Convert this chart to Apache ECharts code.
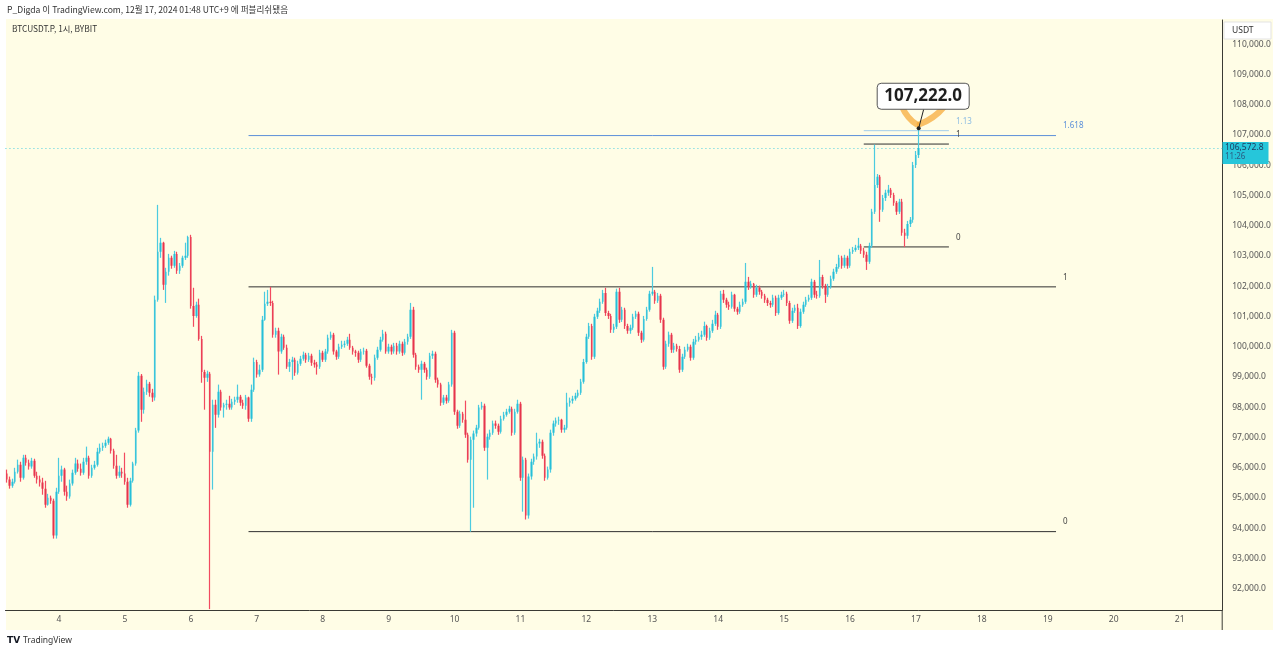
<!DOCTYPE html>
<html><head><meta charset="utf-8">
<script src="https://cdn.jsdelivr.net/npm/echarts@6/dist/echarts.min.js"></script>
<style>
html,body{margin:0;padding:0;background:#fff;width:1280px;height:654px;overflow:hidden;}
#panel{position:absolute;left:6px;top:19px;width:1267px;height:611px;background:#fffde6;}
#c{position:absolute;left:0;top:0;width:1280px;height:654px;}
</style>
</head><body><div id="panel"></div><div id="c"></div>
<script>
// BTCUSDT.P 1h, Dec 3 05:00 -> Dec 17 01:00 (UTC+9)
const opens = [
95810,95610,95410,95540,95870,96100,95670,96330,96170,96040,96230,95740,95610,95510,95310,94780,95010,94910,93760,
95210,95740,95940,95210,95050,95480,95840,96140,95970,95840,96200,96330,95740,96000,96100,96530,96660,96730,96830,96960,96560,96070,95740,95870,
95810,95540,94780,95570,96140,97230,99040,97920,98510,98780,98480,98320,101550,103140,103440,102050,102480,102940,102680,103070,102510,102680,102940,103010,
103630,101350,101020,101390,100260,99170,98980,99110,96530,98080,97750,98510,97990,98080,98120,97990,98180,98250,98350,98150,98050,98320,97620,98580,
99500,99080,99240,100890,101420,101490,101450,100400,100530,99840,100330,99970,99340,99500,99570,99140,99440,99600,99740,99570,99700,99470,99410,99340,
99800,99570,99840,100300,100400,99840,99670,100000,100070,100100,100230,99970,99840,99800,99570,99840,99870,99370,99010,98980,99640,99900,100230,100430,
99840,100000,99840,100030,99840,100100,99800,100170,100330,101220,99740,99340,99240,99440,99240,99010,99700,99770,98910,98750,98150,98320,98220,98750,
100460,97850,97390,97790,97590,97090,96270,96930,97130,97320,97990,98050,96660,97030,97160,97460,97390,97190,97620,97750,97850,97950,97160,97850,
98120,95670,96270,94420,95710,96200,96370,96800,96860,96400,95670,95940,97160,97460,97560,97590,97260,97320,98150,98220,98280,98380,98480,98840,
99500,100330,100690,99670,100990,101190,101490,101780,101120,101020,100560,100660,101820,100890,101220,100690,100530,100630,100990,101090,100460,100230,100920,101220,
101750,101820,101520,101690,100890,99340,100100,100400,99900,100030,99930,99240,99670,99900,100000,99640,100170,100230,100330,100400,100690,100300,100530,100760,
101060,100660,101750,101550,101390,101320,101720,101260,101160,101390,101490,102150,101980,102080,101720,101950,101820,101690,101550,101450,101390,101620,101120,101620,
101720,101750,101450,100860,101190,101290,100690,101160,101390,101550,101620,102150,101720,101690,102310,102020,101720,101980,102250,102480,102640,102940,102680,102940,
102680,103140,103200,103270,103340,103170,103040,102810,103340,104460,105350,105620,104530,104920,105090,105190,105020,104760,104460,104790,103770,103670,104060,104200,
106010,106340
];
const closes = [
95610,95410,95540,95870,96100,95670,96330,96170,96040,96230,95740,95610,95510,95310,94780,95010,94910,93760,95210,
95740,95940,95210,95050,95480,95840,96140,95970,95840,96200,96330,95740,96000,96100,96530,96660,96730,96830,96960,96560,96070,95740,95870,95810,
95540,94780,95570,96140,97230,99040,97920,98510,98780,98480,98320,101550,103140,103440,102050,102480,102940,102680,103070,102510,102680,102940,103010,103630,
101350,101020,101390,100260,99170,98980,99110,96530,98080,97750,98510,97990,98080,98120,97990,98180,98250,98350,98150,98050,98320,97620,98580,99500,
99080,99240,100890,101420,101490,101450,100400,100530,99840,100330,99970,99340,99500,99570,99140,99440,99600,99740,99570,99700,99470,99410,99340,99800,
99570,99840,100300,100400,99840,99670,100000,100070,100100,100230,99970,99840,99800,99570,99840,99870,99370,99010,98980,99640,99900,100230,100430,99840,
100000,99840,100030,99840,100100,99800,100170,100330,101220,99740,99340,99240,99440,99240,99010,99700,99770,98910,98750,98150,98320,98220,98750,100460,
97850,97390,97790,97590,97090,96270,96930,97130,97320,97990,98050,96660,97030,97160,97460,97390,97190,97620,97750,97850,97950,97160,97850,98120,
95670,96270,94420,95710,96200,96370,96800,96860,96400,95670,95940,97160,97460,97560,97590,97260,97320,98150,98220,98280,98380,98480,98840,99500,
100330,100690,99670,100990,101190,101490,101780,101120,101020,100560,100660,101820,100890,101220,100690,100530,100630,100990,101090,100460,100230,100920,101220,101750,
101820,101520,101690,100890,99340,100100,100400,99900,100030,99930,99240,99670,99900,100000,99640,100170,100230,100330,100400,100690,100300,100530,100760,101060,
100660,101750,101550,101390,101320,101720,101260,101160,101390,101490,102150,101980,102080,101720,101950,101820,101690,101550,101450,101390,101620,101120,101620,101720,
101750,101450,100860,101190,101290,100690,101160,101390,101550,101620,102150,101720,101690,102310,102020,101720,101980,102250,102480,102640,102940,102680,102940,102680,
103140,103200,103270,103340,103170,103040,102810,103340,104460,105350,105620,104530,104920,105090,105190,105020,104760,104460,104790,103770,103670,104060,104200,106010,
106340,106572.8
];
const lows = [
95510,95310,95340,95480,95810,95540,95610,96070,95940,95970,95670,95480,95380,95110,94680,94750,94810,93660,93660,
95140,95540,95080,94910,94980,95410,95770,95870,95740,95770,96100,95640,95670,95940,96040,96470,96560,96660,96760,96470,95970,95640,95670,95670,
95440,94680,94720,95510,96070,97160,97520,97790,98410,98350,98180,98220,101490,102940,101880,101450,102350,102580,102610,102410,102410,102610,102870,102940,
101260,100660,100960,100200,98810,97920,98840,91330,95280,97320,97660,97890,97660,97920,97920,97920,98080,98150,98050,97950,97920,97520,97520,98510,
98980,99010,99170,100860,101350,101350,100300,100300,99080,99770,99900,99270,99170,98910,99040,99080,99370,99540,99470,99500,99370,99310,99080,99270,
99500,99500,99770,100230,99740,99570,99600,99930,99970,100030,99900,99740,99670,99470,99500,99740,99310,98910,98750,98880,99570,99840,100170,99770,
99770,99740,99770,99740,99770,99700,99740,100070,100260,99640,99240,99140,98250,99140,98910,98940,99600,98810,98650,98050,98080,98120,98150,98680,
97750,97290,97320,97490,96990,96170,93890,94680,97030,97260,97920,96560,95610,96930,97090,97290,97090,97130,97560,97690,97790,97060,97090,97790,
95570,94550,94290,94320,95610,96100,96270,96660,96300,95570,95610,95840,97060,97360,97420,97160,97160,97260,98020,98120,98220,98320,98410,98780,
99440,100260,99570,99600,100920,101120,101420,101020,100920,100460,100460,100590,100790,100820,100590,100430,100430,100560,100920,100360,100130,100170,100860,101160,
101690,101420,101450,100790,99240,99270,100000,99800,99800,99840,99140,99170,99600,99840,99540,99570,100070,100170,100230,100330,100200,100230,100460,100690,
100560,100590,101450,101290,101220,101260,101160,101060,101090,101320,101420,101880,101920,101620,101650,101720,101590,101450,101350,101290,101320,101020,101060,101550,
101650,101350,100760,100790,101120,100590,100630,101090,101320,101490,101550,101620,101590,101620,101920,101450,101650,101920,102180,102410,102580,102580,102610,102580,
102610,103070,103140,103200,103070,102940,102540,102740,103270,104390,105250,104130,104460,104820,104990,104920,104660,104360,104390,103670,103300,103570,103960,104100,
105910,106240
];
const highs = [
95940,95710,95640,96000,96270,96200,96430,96430,96270,96330,96300,95870,95740,95670,95570,95140,95080,94980,95340,
96330,96070,96000,95410,95610,95940,96330,96270,96140,96330,96700,96400,96100,96230,96660,96800,96830,96930,97030,96990,96630,96430,96070,96000,
96500,95670,95670,96200,97320,99170,99100,98650,98910,98840,98610,101690,104690,103600,103470,102610,103070,103010,103170,103140,102770,103010,103440,103670,
103700,101950,101490,101590,100360,99240,99210,99170,98250,98250,98750,98580,98150,98250,98380,98280,98350,98750,98410,98250,98410,98350,98750,99640,
99570,99410,101020,101820,101880,101980,101520,100630,100630,100430,100400,100070,99600,99670,99640,99540,99700,99840,99800,99800,99770,99570,99500,99900,
99870,99930,100400,100500,100460,99900,100100,100200,100200,100330,100430,100030,99900,99870,99930,99970,99930,99440,99110,99740,100000,100330,100560,100500,
100100,100070,100130,100130,100200,100170,100260,100430,101450,101320,99800,99410,99540,99500,99310,99800,99870,99840,98980,98810,98410,98410,98840,100560,
100530,97920,97890,97850,98220,97160,97030,97230,97420,98080,98180,98120,97130,97260,97560,97560,97460,97720,97850,97950,98050,98020,97950,98250,
98180,96370,96330,95810,96300,96470,97160,96960,96930,96470,96040,97260,97560,97660,97690,97620,97420,98480,98320,98380,98480,98580,98940,99600,
100430,100790,100760,101090,101290,101590,101880,101950,101190,101090,100760,101920,101950,101320,101290,100760,100730,101090,101190,101160,100530,101020,101320,101850,
102640,101880,101780,101750,100960,100200,100500,100460,100130,100100,100030,99770,100000,100100,100070,100260,100360,100460,100530,100830,100730,100630,100890,101190,
101120,101850,101880,101620,101490,101820,101750,101320,101490,101590,102770,102310,102180,102110,102050,102020,101880,101750,101620,101520,101720,101690,101720,101820,
101880,101820,101520,101290,101390,101420,101260,101490,101650,101720,102250,102210,101850,102870,102380,102080,102080,102350,102580,102740,103040,103010,103040,103010,
103240,103300,103370,103600,103400,103270,103140,103440,104560,106680,105710,105680,105020,105190,105350,105250,105090,104820,104890,104890,103900,104160,104290,106110,
106470,107222
];
// time axis: first bar Dec 3 05:00, hourly, room up to Dec 21
const startDay = 3, startHour = 5, totalSlots = 443;
// Fibonacci drawings (level labels and their prices) and their anchor bars
const bigFibLabels = ['0', '1', '1.618'];
const bigFibPrices = [93890, 101980, 106980];
const bigFibBars = [88, 382];
const smallFibLabels = ['0', '1', '1.13'];
const smallFibPrices = [103300, 106700, 107142];
const smallFibBars = [312, 343];
const countdown = '11:26';
const headerText = 'P_Digda 이 TradingView.com, 12월 17, 2024 01:48 UTC+9 에 퍼블리쉬됐음';
const symbolText = 'BTCUSDT.P, 1시, BYBIT';

const categories = [];
for (let k = 0; k < totalSlots; k++) {
  const h = startHour + k;
  const d = startDay + Math.floor(h / 24);
  categories.push(d + ' ' + String(h % 24).padStart(2, '0') + ':00');
}
const fmt = v => Number(v).toLocaleString('en-US', {minimumFractionDigits: 1, maximumFractionDigits: 1});

const UP = '#26bfd8', DOWN = '#e5354c';
const UP_WICK = '#4ccbe0', DOWN_WICK = '#f24a60';
const FONT = '"Noto Sans", Roboto, sans-serif';
const BLUE = '#5b8fd9', LIGHTBLUE = '#a3cdeb', DARK = '#2f2f2f';

const candles = opens.map((o, i) => [o, closes[i], lows[i], highs[i]]);

function levelLine(bars, price, color) {
  return {type: 'line', data: [[bars[0], price], [bars[1], price]], symbol: 'none', silent: true,
    lineStyle: {color: color, width: 1}, z: 3, animation: false};
}
const bigColors = [DARK, DARK, BLUE];
const smallColors = [DARK, DARK, LIGHTBLUE];

const series = [
  // wicks
  {type: 'candlestick', data: candles, barWidth: 0.5, z: 4, silent: true, emphasis: {disabled: true},
    itemStyle: {color: UP_WICK, color0: DOWN_WICK, borderColor: UP_WICK, borderColor0: DOWN_WICK, borderColorDoji: UP_WICK, borderWidth: 1.2}},
  // bodies
  {type: 'candlestick', data: candles, barWidth: 2, z: 5, silent: true, emphasis: {disabled: true},
    itemStyle: {color: UP, color0: DOWN, borderColor: 'rgba(0,0,0,0)', borderColor0: 'rgba(0,0,0,0)', borderColorDoji: 'rgba(0,0,0,0)', borderWidth: 0},
    markLine: {symbol: 'none', silent: true, animation: false,
      lineStyle: {color: '#4fcfe0', type: [1, 3], width: 1},
      label: {show: false},
      data: [{yAxis: closes[closes.length - 1]}]}}
];
bigFibPrices.forEach((p, i) => series.push(levelLine(bigFibBars, p, bigColors[i])));
smallFibPrices.forEach((p, i) => series.push(levelLine(smallFibBars, p, smallColors[i])));

const chart = echarts.init(document.getElementById('c'), null, {renderer: 'canvas'});
chart.setOption({
  animation: false,
  backgroundColor: 'transparent',
  grid: {left: 5.44, right: 57.8, top: 20, bottom: 44, outerBoundsMode: 'none'},
  xAxis: {type: 'category', data: categories, boundaryGap: true,
    axisLine: {show: true, onZero: false, lineStyle: {color: '#3a3a34', width: 1}},
    axisTick: {show: false}, splitLine: {show: false},
    axisLabel: {color: '#555', fontSize: 8.5, fontFamily: FONT, margin: 5,
      interval: (idx, val) => val.endsWith(' 00:00'),
      formatter: val => val.split(' ')[0]}},
  yAxis: {type: 'value', position: 'right', min: 91300, max: 110800, splitNumber: 20, scale: true,
    axisLine: {show: true, onZero: false, lineStyle: {color: '#3a3a34', width: 1}},
    axisTick: {show: false}, splitLine: {show: false},
    axisLabel: {color: '#555', fontSize: 8.5, fontFamily: FONT, margin: 10,
      showMinLabel: false, showMaxLabel: false, formatter: v => fmt(v)}},
  series: series
});

const px = (i, p) => chart.convertToPixel({xAxisIndex: 0, yAxisIndex: 0}, [i, p]);
const g = [];
function txt(x, y, text, opts, z) {
  g.push({type: 'text', x: x, y: y, silent: true, z: z || 50,
    style: Object.assign({text: text, fill: '#444', fontSize: 8.5, fontFamily: FONT, textVerticalAlign: 'middle'}, opts || {})});
}
// header texts
txt(7, 10, headerText, {fill: '#333', fontSize: 8.6, fontFamily: '"Noto Sans CJK KR", "Noto Sans", sans-serif'});
txt(12, 28.5, symbolText, {fill: '#333', fontSize: 8.3, fontFamily: '"Noto Sans CJK KR", "Noto Sans", sans-serif'});
// footer logo
txt(7, 641, 'TV', {fill: '#131722', fontSize: 9, fontWeight: 900, fontFamily: '"DejaVu Sans", sans-serif'});
txt(23, 641, 'TradingView', {fill: '#333', fontSize: 8.5});
// separator continuation
g.push({type: 'line', silent: true, z: 50, shape: {x1: 1222.2, y1: 610, x2: 1222.2, y2: 630}, style: {stroke: '#3a3a34', lineWidth: 1}});
// USDT box
g.push({type: 'rect', silent: true, z: 50, shape: {x: 1224, y: 22, width: 47, height: 17}, style: {fill: '#fff', stroke: '#e3e3e3', lineWidth: 1}});
txt(1232, 30.5, 'USDT', {fill: '#333', fontSize: 8.5}, 52);
// fib labels
const bEnd = px(bigFibBars[1], 0)[0];
bigFibPrices.forEach((p, i) => txt(bEnd + 7, px(0, p)[1] - 9.5, bigFibLabels[i], {fill: i === 2 ? BLUE : '#444', fontSize: 8}));
const sEnd = px(smallFibBars[1], 0)[0];
smallFibPrices.forEach((p, i) => txt(sEnd + 7, px(0, p)[1] - 9, smallFibLabels[i], {fill: i === 2 ? '#8cbde3' : '#444', fontSize: 8}));
// last price tag
const lastY = px(0, closes[closes.length - 1])[1];
g.push({type: 'rect', silent: true, z: 51, shape: {x: 1222.5, y: lastY - 6, width: 46, height: 22}, style: {fill: '#26c6da'}});
txt(1225, lastY, fmt(closes[closes.length - 1]), {fill: '#1c3d63', fontSize: 8.5}, 53);
txt(1225, lastY + 9, countdown, {fill: '#2b5b80', fontSize: 8}, 53);
// high annotation
const hi = px(closes.length - 1, highs[highs.length - 1]);
const hx = hi[0], hy = hi[1];
const ORANGE = 'rgba(246,168,52,0.72)';
g.push({type: 'bezierCurve', silent: true, z: 40, shape: {x1: hx - 17, y1: hy - 22, cpx1: hx - 11, cpy1: hy - 9, x2: hx - 2, y2: hy - 4},
  style: {stroke: ORANGE, lineWidth: 6, fill: null, lineCap: 'round'}});
g.push({type: 'bezierCurve', silent: true, z: 40, shape: {x1: hx + 1, y1: hy - 4, cpx1: hx + 16, cpy1: hy - 10, x2: hx + 25, y2: hy - 21},
  style: {stroke: ORANGE, lineWidth: 6, fill: null, lineCap: 'round'}});
g.push({type: 'line', silent: true, z: 45, shape: {x1: hx, y1: hy, x2: hx + 5, y2: hy - 19}, style: {stroke: '#222', lineWidth: 1}});
g.push({type: 'circle', silent: true, z: 46, shape: {cx: hx, cy: hy, r: 2}, style: {fill: '#222'}});
g.push({type: 'rect', silent: true, z: 47, shape: {x: hx - 41.5, y: hy - 45, width: 92, height: 26, r: 4}, style: {fill: '#fff', stroke: '#555', lineWidth: 1}});
g.push({type: 'text', silent: true, z: 48, x: hx + 4.5, y: hy - 32,
  style: {text: fmt(highs[highs.length - 1]), fill: '#1e1e1e', fontSize: 17, fontWeight: 'bold', fontFamily: FONT, textAlign: 'center', textVerticalAlign: 'middle'}});
chart.setOption({graphic: {elements: g}});
</script>
</body></html>
